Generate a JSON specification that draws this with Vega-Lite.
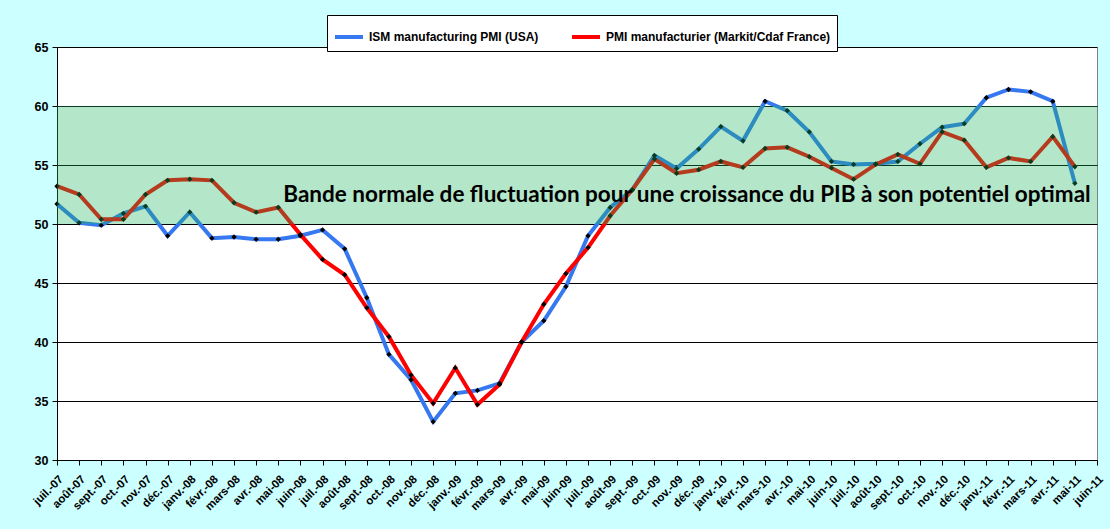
{
  "$schema": "https://vega.github.io/schema/vega-lite/v6.json",
  "width": 1040,
  "height": 413,
  "autosize": {"type": "none"},
  "padding": {"left": 57, "top": 47, "right": 13, "bottom": 69},
  "background": "#CCFFFF",
  "data": {
    "values": [
      {"m": "juil.-07", "s": "USA", "v": 51.7}, {"m": "août-07", "s": "USA", "v": 50.1},
      {"m": "sept.-07", "s": "USA", "v": 49.9}, {"m": "oct.-07", "s": "USA", "v": 50.9},
      {"m": "nov.-07", "s": "USA", "v": 51.5}, {"m": "déc.-07", "s": "USA", "v": 49.0},
      {"m": "janv.-08", "s": "USA", "v": 51.0}, {"m": "févr.-08", "s": "USA", "v": 48.8},
      {"m": "mars-08", "s": "USA", "v": 48.9}, {"m": "avr.-08", "s": "USA", "v": 48.7},
      {"m": "mai-08", "s": "USA", "v": 48.7}, {"m": "juin-08", "s": "USA", "v": 49.0},
      {"m": "juil.-08", "s": "USA", "v": 49.5}, {"m": "août-08", "s": "USA", "v": 47.9},
      {"m": "sept.-08", "s": "USA", "v": 43.75}, {"m": "oct.-08", "s": "USA", "v": 38.95},
      {"m": "nov.-08", "s": "USA", "v": 36.8}, {"m": "déc.-08", "s": "USA", "v": 33.25},
      {"m": "janv.-09", "s": "USA", "v": 35.65}, {"m": "févr.-09", "s": "USA", "v": 35.9},
      {"m": "mars-09", "s": "USA", "v": 36.5}, {"m": "avr.-09", "s": "USA", "v": 40.0},
      {"m": "mai-09", "s": "USA", "v": 41.8}, {"m": "juin-09", "s": "USA", "v": 44.7},
      {"m": "juil.-09", "s": "USA", "v": 49.0}, {"m": "août-09", "s": "USA", "v": 51.4},
      {"m": "sept.-09", "s": "USA", "v": 52.9}, {"m": "oct.-09", "s": "USA", "v": 55.8},
      {"m": "nov.-09", "s": "USA", "v": 54.7}, {"m": "déc.-09", "s": "USA", "v": 56.35},
      {"m": "janv.-10", "s": "USA", "v": 58.25}, {"m": "févr.-10", "s": "USA", "v": 57.05},
      {"m": "mars-10", "s": "USA", "v": 60.4}, {"m": "avr.-10", "s": "USA", "v": 59.6},
      {"m": "mai-10", "s": "USA", "v": 57.8}, {"m": "juin-10", "s": "USA", "v": 55.3},
      {"m": "juil.-10", "s": "USA", "v": 55.05}, {"m": "août-10", "s": "USA", "v": 55.1},
      {"m": "sept.-10", "s": "USA", "v": 55.3}, {"m": "oct.-10", "s": "USA", "v": 56.8},
      {"m": "nov.-10", "s": "USA", "v": 58.2}, {"m": "déc.-10", "s": "USA", "v": 58.5},
      {"m": "janv.-11", "s": "USA", "v": 60.7}, {"m": "févr.-11", "s": "USA", "v": 61.4},
      {"m": "mars-11", "s": "USA", "v": 61.2}, {"m": "avr.-11", "s": "USA", "v": 60.4},
      {"m": "mai-11", "s": "USA", "v": 53.45},
      {"m": "juil.-07", "s": "France", "v": 53.2}, {"m": "août-07", "s": "France", "v": 52.5},
      {"m": "sept.-07", "s": "France", "v": 50.4}, {"m": "oct.-07", "s": "France", "v": 50.4},
      {"m": "nov.-07", "s": "France", "v": 52.5}, {"m": "déc.-07", "s": "France", "v": 53.7},
      {"m": "janv.-08", "s": "France", "v": 53.8}, {"m": "févr.-08", "s": "France", "v": 53.7},
      {"m": "mars-08", "s": "France", "v": 51.8}, {"m": "avr.-08", "s": "France", "v": 51.0},
      {"m": "mai-08", "s": "France", "v": 51.4}, {"m": "juin-08", "s": "France", "v": 49.1},
      {"m": "juil.-08", "s": "France", "v": 47.0}, {"m": "août-08", "s": "France", "v": 45.7},
      {"m": "sept.-08", "s": "France", "v": 42.9}, {"m": "oct.-08", "s": "France", "v": 40.45},
      {"m": "nov.-08", "s": "France", "v": 37.2}, {"m": "déc.-08", "s": "France", "v": 34.8},
      {"m": "janv.-09", "s": "France", "v": 37.8}, {"m": "févr.-09", "s": "France", "v": 34.7},
      {"m": "mars-09", "s": "France", "v": 36.4}, {"m": "avr.-09", "s": "France", "v": 40.0},
      {"m": "mai-09", "s": "France", "v": 43.2}, {"m": "juin-09", "s": "France", "v": 45.8},
      {"m": "juil.-09", "s": "France", "v": 48.0}, {"m": "août-09", "s": "France", "v": 50.7},
      {"m": "sept.-09", "s": "France", "v": 52.9}, {"m": "oct.-09", "s": "France", "v": 55.5},
      {"m": "nov.-09", "s": "France", "v": 54.3}, {"m": "déc.-09", "s": "France", "v": 54.6},
      {"m": "janv.-10", "s": "France", "v": 55.3}, {"m": "févr.-10", "s": "France", "v": 54.8},
      {"m": "mars-10", "s": "France", "v": 56.4}, {"m": "avr.-10", "s": "France", "v": 56.5},
      {"m": "mai-10", "s": "France", "v": 55.7}, {"m": "juin-10", "s": "France", "v": 54.75},
      {"m": "juil.-10", "s": "France", "v": 53.8}, {"m": "août-10", "s": "France", "v": 55.05},
      {"m": "sept.-10", "s": "France", "v": 55.9}, {"m": "oct.-10", "s": "France", "v": 55.1},
      {"m": "nov.-10", "s": "France", "v": 57.8}, {"m": "déc.-10", "s": "France", "v": 57.1},
      {"m": "janv.-11", "s": "France", "v": 54.8}, {"m": "févr.-11", "s": "France", "v": 55.6},
      {"m": "mars-11", "s": "France", "v": 55.3}, {"m": "avr.-11", "s": "France", "v": 57.4},
      {"m": "mai-11", "s": "France", "v": 54.85}
    ]
  },
  "encoding": {
    "x": {
      "field": "m",
      "type": "ordinal",
      "sort": null,
      "scale": {
        "type": "point",
        "padding": 0,
        "domain": ["juil.-07", "août-07", "sept.-07", "oct.-07", "nov.-07", "déc.-07",
          "janv.-08", "févr.-08", "mars-08", "avr.-08", "mai-08", "juin-08",
          "juil.-08", "août-08", "sept.-08", "oct.-08", "nov.-08", "déc.-08",
          "janv.-09", "févr.-09", "mars-09", "avr.-09", "mai-09", "juin-09",
          "juil.-09", "août-09", "sept.-09", "oct.-09", "nov.-09", "déc.-09",
          "janv.-10", "févr.-10", "mars-10", "avr.-10", "mai-10", "juin-10",
          "juil.-10", "août-10", "sept.-10", "oct.-10", "nov.-10", "déc.-10",
          "janv.-11", "févr.-11", "mars-11", "avr.-11", "mai-11", "juin-11"]
      },
      "axis": {
        "title": null,
        "labelAngle": -45,
        "labelFont": "Liberation Sans",
        "labelFontWeight": "bold",
        "labelFontSize": 11.5,
        "labelColor": "#000000",
        "labelPadding": 8,
        "labelOverlap": false,
        "tickColor": "#000000",
        "tickSize": 5,
        "domainColor": "#000000",
        "grid": false
      }
    },
    "y": {
      "field": "v",
      "type": "quantitative",
      "scale": {"domain": [30, 65], "nice": false, "zero": false},
      "axis": {
        "title": null,
        "values": [30, 35, 40, 45, 50, 55, 60, 65],
        "labelFont": "Liberation Sans",
        "labelFontWeight": "bold",
        "labelFontSize": 12.5,
        "labelColor": "#000000",
        "labelPadding": 4,
        "tickColor": "#000000",
        "tickSize": 5,
        "domainColor": "#000000",
        "gridColor": "#000000",
        "gridWidth": 1
      }
    }
  },
  "layer": [
    {
      "mark": {"type": "line", "strokeWidth": 4},
      "encoding": {
        "color": {
          "field": "s",
          "type": "nominal",
          "scale": {"domain": ["USA", "France"], "range": ["#3578F0", "#FF0000"]},
          "legend": {
            "title": null,
            "orient": "none",
            "legendX": 270,
            "legendY": -32,
            "direction": "horizontal",
            "fillColor": "#FFFFFF",
            "strokeColor": "#000000",
            "padding": 6,
            "columnPadding": 22,
            "symbolType": "stroke",
            "symbolStrokeWidth": 4,
            "symbolSize": 784,
            "labelFont": "Liberation Sans",
            "labelFontWeight": "bold",
            "labelFontSize": 12,
            "labelColor": "#000000",
            "labelLimit": 400,
            "labelExpr": "datum.label == 'USA' ? 'ISM manufacturing  PMI (USA)' : 'PMI manufacturier (Markit/Cdaf France)'"
          }
        }
      }
    },
    {
      "mark": {"type": "point", "shape": "diamond", "filled": true, "color": "#000000", "size": 28, "opacity": 1},
      "encoding": {"detail": {"field": "s"}}
    },
    {
      "data": {"values": [{"lo": 50, "hi": 60}]},
      "mark": {"type": "rect", "color": "#1BB45A", "opacity": 0.33},
      "encoding": {"x": null, "y": {"field": "lo", "type": "quantitative"}, "y2": {"field": "hi"}}
    },
    {
      "data": {"values": [{"m": "mai-08", "v": 52.5, "t": "Bande normale de fluctuation pour une croissance du PIB à son potentiel optimal"}]},
      "mark": {"type": "text", "align": "left", "baseline": "middle", "font": "Lato", "fontWeight": "bold", "fontSize": 22.5, "color": "#000000", "dx": 5},
      "encoding": {
        "text": {"field": "t"}
      }
    }
  ],
  "config": {
    "view": {"fill": "#FFFFFF", "stroke": "#808080", "strokeWidth": 1}
  }
}
